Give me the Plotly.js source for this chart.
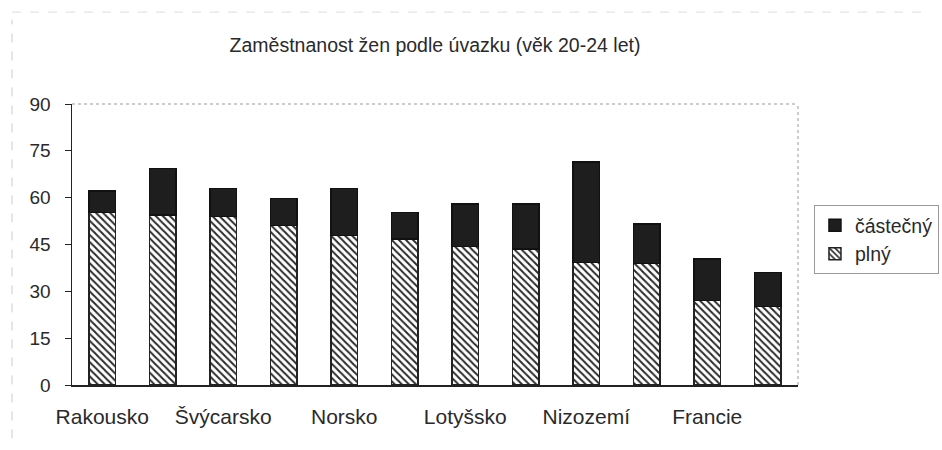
<!DOCTYPE html>
<html>
<head>
<meta charset="utf-8">
<script src="https://cdn.plot.ly/plotly-3.0.1.min.js"></script>
<style>html,body{margin:0;padding:0;background:#fff;}#chart{width:942px;height:450px;}</style>
</head>
<body>
<div id="chart"></div>
<script>
// 12 bars; only every other category label is printed in the source chart
const labels = ['Rakousko', '', 'Švýcarsko', '', 'Norsko', '', 'Lotyšsko', '', 'Nizozemí', '', 'Francie', ''];
const positions = [0, 1, 2, 3, 4, 5, 6, 7, 8, 9, 10, 11];
const plny = [55.3, 54.5, 53.9, 51.1, 47.9, 46.8, 44.4, 43.6, 39.3, 38.9, 27.1, 25.1];
const totals = [62.1, 69.4, 63.0, 59.8, 63.0, 55.3, 58.0, 58.0, 71.4, 51.6, 40.4, 36.1];
const castecny = totals.map((t, i) => +(t - plny[i]).toFixed(1));

const shownIdx = positions.filter((p, i) => labels[i] !== '');
const shownText = labels.filter(l => l !== '');

const font = {family: 'Liberation Sans, Arial, sans-serif', color: '#2a2a2a'};
const f = s => Object.assign({size: s}, font);

const traces = [
  {
    type: 'bar', name: 'plný', x: positions, y: plny, width: 0.43,
    marker: {color: '#fff', line: {color: '#222', width: 1.5},
      pattern: {shape: '\\', fgcolor: '#2a2a2a', bgcolor: '#fff', size: 5, solidity: 0.4}},
    hoverinfo: 'y'
  },
  {
    type: 'bar', name: 'částečný', x: positions, y: castecny, width: 0.43,
    marker: {color: '#1e1e1e', line: {color: '#111', width: 1.5}},
    hoverinfo: 'y'
  }
];

const layout = {
  width: 942, height: 450,
  margin: {l: 72, r: 144, t: 104, b: 65, autoexpand: false},
  paper_bgcolor: '#fff', plot_bgcolor: '#fff',
  barmode: 'stack',
  font: f(19),
  title: {text: 'Zaměstnanost žen podle úvazku (věk 20-24 let)', font: f(19.5),
    x: 0.5, xref: 'paper', y: 0.9, yanchor: 'middle'},
  xaxis: {range: [-0.5, 11.5], tickvals: shownIdx, ticktext: shownText, showgrid: false, zeroline: false,
    showline: true, linecolor: '#222', linewidth: 1.5, ticks: '', ticklabelstandoff: 12, tickfont: f(21)},
  yaxis: {range: [0, 90], dtick: 15, showgrid: false, zeroline: false, showline: true, linecolor: '#222',
    linewidth: 1.5, ticks: 'outside', ticklen: 6, tickcolor: '#222', ticklabelstandoff: 10, tickfont: f(19)},
  legend: {x: 1.022, y: 0.64, xanchor: 'left', yanchor: 'top', traceorder: 'reversed',
    bordercolor: '#999', borderwidth: 1, font: f(19.5), itemwidth: 30, tracegroupgap: 0},
  shapes: [
    {type: 'line', xref: 'paper', yref: 'paper', x0: 0, x1: 1, y0: 1, y1: 1, line: {color: '#999', width: 1, dash: 'dot'}},
    {type: 'line', xref: 'paper', yref: 'paper', x0: 1, x1: 1, y0: 0, y1: 1, line: {color: '#999', width: 1, dash: 'dot'}},
    {type: 'line', xref: 'paper', yref: 'paper', x0: -0.0826, x1: -0.0826, y0: -0.19, y1: 1.3, line: {color: '#ccc', width: 1, dash: 'dash'}},
    {type: 'line', xref: 'paper', yref: 'paper', x0: -0.0826, x1: 1.18, y0: 1.327, y1: 1.327, line: {color: '#ddd', width: 1, dash: 'dash'}}
  ],
  showlegend: true
};

Plotly.newPlot('chart', traces, layout, {displayModeBar: false, staticPlot: true});
</script>
</body>
</html>
